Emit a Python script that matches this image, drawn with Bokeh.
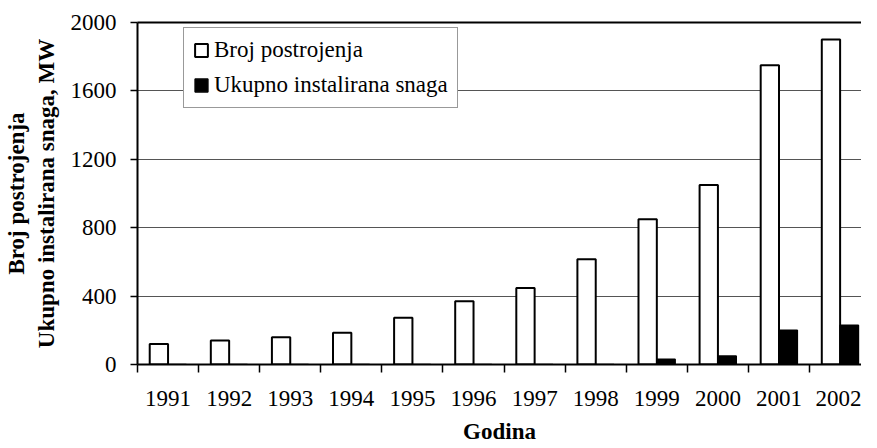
from bokeh.plotting import figure
from bokeh.models import (ColumnDataSource, FixedTicker, LinearAxis, Legend, LegendItem, Range1d)
from bokeh.transform import dodge
from bokeh.embed import file_html
from bokeh.resources import INLINE

years = ["1991", "1992", "1993", "1994", "1995", "1996", "1997", "1998",
         "1999", "2000", "2001", "2002"]
broj_postrojenja = [120, 140, 160, 185, 273, 370, 448, 615, 850, 1050, 1750, 1900]
instalirana_snaga = [0, 0, 0, 0, 0, 0, 0, 0, 30, 50, 200, 230]
y_ticks = [0, 400, 800, 1200, 1600, 2000]

FONT = "Liberation Serif"

idx = list(range(len(years)))
src = ColumnDataSource(dict(x=idx, broj=broj_postrojenja, snaga=instalirana_snaga))

p = figure(width=861, height=446, output_backend="svg", toolbar_location=None,
           x_range=Range1d(-0.5, len(years) - 0.65), y_range=Range1d(0, 2000),
           min_border_left=126, min_border_right=0, min_border_top=22,
           min_border_bottom=82, background_fill_color="white",
           border_fill_color="white", outline_line_color=None)

r1 = p.vbar(x=dodge("x", -0.15, range=p.x_range), top="broj", width=0.3, source=src,
            fill_color="white", line_color="black", line_width=2)
r2 = p.vbar(x=dodge("x", 0.15, range=p.x_range), top="snaga", width=0.3, source=src,
            fill_color="black", line_color="black", line_width=1.5)

# x axis
xa = p.xaxis[0]
xa.ticker = FixedTicker(ticks=idx, minor_ticks=[i - 0.5 for i in range(len(years) + 1)])
xa.major_label_overrides = {i: y for i, y in enumerate(years)}
xa.major_tick_line_color = None
xa.major_tick_out = 0
xa.minor_tick_out = 8
xa.minor_tick_in = 0
xa.minor_tick_line_color = "black"
xa.minor_tick_line_width = 1.5
xa.major_label_standoff = 18
xa.axis_line_color = "black"
xa.axis_line_width = 2
xa.major_label_text_font = FONT
xa.major_label_text_font_size = "23px"
xa.major_label_text_color = "black"
xa.axis_label = "Godina"
xa.axis_label_text_font = FONT
xa.axis_label_text_font_size = "23px"
xa.axis_label_text_font_style = "bold"
xa.axis_label_text_color = "black"
xa.axis_label_standoff = 10

# y axis
ya = p.yaxis[0]
ya.ticker = FixedTicker(ticks=y_ticks)
ya.minor_tick_line_color = None
ya.major_tick_out = 7
ya.major_tick_in = 0
ya.major_tick_line_color = "black"
ya.major_tick_line_width = 1.5
ya.major_label_standoff = 14
ya.axis_line_color = "black"
ya.axis_line_width = 2
ya.major_label_text_font = FONT
ya.major_label_text_font_size = "23px"
ya.major_label_text_color = "black"
ya.axis_label = "Broj postrojenja\nUkupno instalirana snaga, MW"
ya.axis_label_text_font = FONT
ya.axis_label_text_font_size = "23px"
ya.axis_label_text_font_style = "bold"
ya.axis_label_text_color = "black"
ya.axis_label_standoff = 9

# top border line of plot area
top = LinearAxis(ticker=FixedTicker(ticks=[]), axis_line_color="black", axis_line_width=2,
                 major_tick_line_color=None, minor_tick_line_color=None,
                 major_label_text_font_size="0px", major_tick_out=0, major_label_standoff=0)
p.add_layout(top, "above")

p.xgrid.grid_line_color = None
p.ygrid.ticker = FixedTicker(ticks=y_ticks[1:-1])
p.ygrid.grid_line_color = "#555555"
p.ygrid.grid_line_width = 1

legend = Legend(items=[LegendItem(label="Broj postrojenja", renderers=[r1]),
                       LegendItem(label="Ukupno instalirana snaga", renderers=[r2])],
                location=(46, 256), label_text_font=FONT, label_text_font_size="23px",
                label_text_color="black", glyph_width=16, glyph_height=16,
                label_standoff=5, padding=9, spacing=9, margin=0,
                border_line_color="#333333", border_line_width=1,
                background_fill_color="white", background_fill_alpha=1.0)
p.add_layout(legend, "center")

open("out.html", "w").write(file_html(p, INLINE))
